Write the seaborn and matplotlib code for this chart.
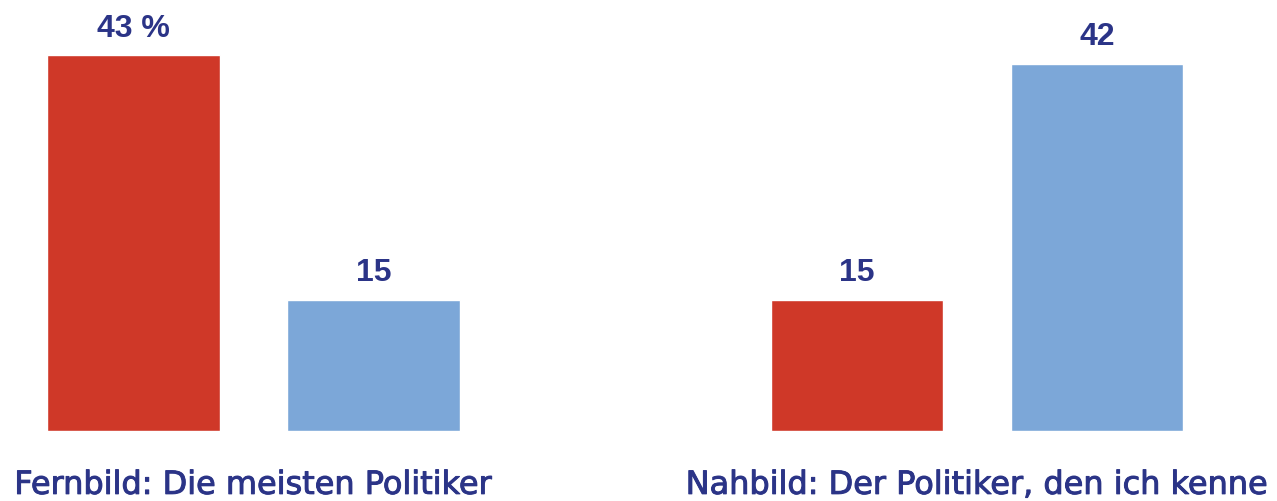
import pandas as pd
import seaborn as sns
import matplotlib.pyplot as plt
import matplotlib.patheffects as pe

# Data
groups = ["Fernbild: Die meisten Politiker", "Nahbild: Der Politiker, den ich kenne"]
series = ["Serie 1", "Serie 2"]
values_1 = [43, 15]
values_2 = [15, 42]
value_labels_1 = ["43 %", "15"]
value_labels_2 = ["15", "42"]

colors = ["#CF3828", "#7CA7D8"]
text_color = "#2B3487"


def create_plot():
    df = pd.DataFrame({
        "Gruppe": groups * 2,
        "Serie": [series[0]] * 2 + [series[1]] * 2,
        "Wert": values_1 + values_2,
    })

    sns.set_style("white")
    plt.rcParams["font.family"] = ["DejaVu Sans"]

    fig = plt.figure(figsize=(12.77, 5.02), dpi=100)
    ax = fig.add_axes([0, 70 / 502, 1, 432 / 502])

    sns.barplot(data=df, x="Gruppe", y="Wert", hue="Serie", order=groups,
                hue_order=series, palette=colors, width=0.663, gap=0.28,
                saturation=1, legend=False, ax=ax)

    # value labels above the bars
    for container, labels in zip(ax.containers, [value_labels_1, value_labels_2]):
        ax.bar_label(container, labels=labels, padding=9, fontsize=23,
                     fontweight="bold", color=text_color,
                     family=["Liberation Sans", "DejaVu Sans"])

    ax.set_xlim(-253.5 / 723.5, 1 + 300 / 723.5)
    ax.set_ylim(0, 432 / 8.74)
    ax.set_xlabel("")
    ax.set_ylabel("")
    ax.set_yticks([])
    ax.tick_params(axis="x", length=0, pad=28, labelsize=23, labelcolor=text_color)
    # slightly heavier group labels
    for lbl in ax.get_xticklabels():
        lbl.set_path_effects([pe.withStroke(linewidth=0.7, foreground=text_color)])
    sns.despine(ax=ax, left=True, bottom=True)

    plt.savefig("out.png", dpi=100)


if __name__ == "__main__":
    create_plot()
